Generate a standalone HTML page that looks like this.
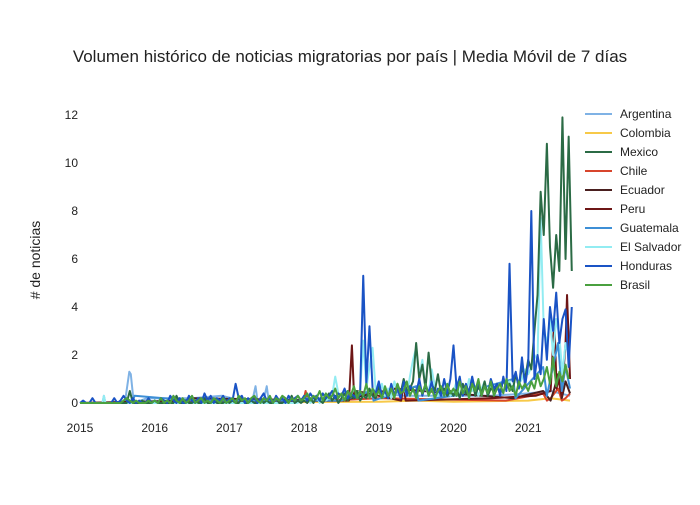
<!DOCTYPE html>
<html><head><meta charset="utf-8"><style>
body{margin:0;background:#fff;font-family:"Liberation Sans",sans-serif}
svg text{font-family:"Liberation Sans",sans-serif;fill:#222}
</style></head><body>
<svg id="c" width="700" height="500">
<text x="350" y="62" text-anchor="middle" font-size="17">Volumen histórico de noticias migratorias por país | Media Móvil de 7 días</text>
<text transform="translate(40,260) rotate(-90)" text-anchor="middle" font-size="14"># de noticias</text>
<g id="yt"></g><g id="xt"></g><g id="plot"></g><g id="leg"></g>
</svg>
<script>
const names=["Argentina","Colombia","Mexico","Chile","Ecuador","Peru","Guatemala","El Salvador","Honduras","Brasil"];
const colors=["#7fb2e5","#f7c948","#2b6b45","#d8452c","#4a1f1f","#6e1616","#3d8fd6","#92ecf2","#1a53c5","#4aa03f"];
const yTicks=[0,2,4,6,8,10,12];
const xTicks=[2015,2016,2017,2018,2019,2020,2021];
const STEP=1/24;
const tArgentina=[2015,2015.3,2015.32,2015.34,2015.6,2015.66,2015.68,2015.72,2015.9,2016.5,2016.9,2017.3,2017.35,2017.38,2017.45,2017.5,2017.53,2018.2,2018.9,2019.3,2020.5,2021.0,2021.3,2021.56];
const vArgentina=[0,0,0.3,0,0,1.3,1.2,0,0.2,0.2,0.3,0,0.7,0,0,0.7,0,0.2,0.5,0.3,0.3,0.4,0.5,0.3];
const tColombia=[2015,2019,2019.5,2020,2021,2021.3,2021.56];
const vColombia=[0,0.05,0.1,0.05,0.1,0.2,0.1];
const tChile=[2015,2017.8,2018.0,2018.02,2018.05,2018.3,2019,2020.7,2021.2,2021.25,2021.3,2021.4,2021.45,2021.5,2021.56];
const vChile=[0,0,0.2,0.5,0.1,0.1,0.2,0.1,0.4,0.1,0.2,0.6,0.1,0.2,0.4];
const tEcuador=[2015,2016.4,2016.5,2018.5,2019.2,2020.8,2021.2,2021.3,2021.35,2021.4,2021.45,2021.5,2021.56];
const vEcuador=[0,0.1,0.2,0.1,0.6,0.2,0.5,0.1,0.6,1.2,0.2,0.9,0.4];
const tPeru=[2015,2018.6,2018.64,2018.67,2018.7,2019.3,2019.33,2019.36,2020.5,2021.1,2021.3,2021.35,2021.38,2021.4,2021.45,2021.5,2021.52,2021.56];
const vPeru=[0,0.1,2.4,0.2,0.5,0.1,0.8,0.1,0.2,0.3,0.5,3.5,0.6,1.0,0.3,2.5,4.5,1.0];
const tGuatemala=[2015,2015.7,2015.73,2016.5,2017.5,2018.5,2018.9,2018.93,2019.5,2019.53,2020.0,2020.8,2020.83,2021.2,2021.25,2021.4,2021.45,2021.5,2021.56];
const vGuatemala=[0,0,0.3,0.1,0.1,0.1,0.5,0.1,0.7,0.1,0.3,1.0,0.2,1.5,0.3,2.5,0.5,1.5,0.6];
const startMexico=2015;
const vMexico=[0,0,0,0,0,0,0,0,0,0,0,0,0,0,0,0,0.5,0,0,0,0.1,0,0,0,
0.1,0,0,0,0,0,0,0.3,0,0,0.1,0,0,0.1,0,0,0.2,0,0,0.1,0,0,0,0.1,
0,0.1,0,0,0.2,0,0,0.1,0,0,0.2,0,0.1,0,0,0.2,0,0,0.1,0,0.3,0,0.1,0,
0.1,0,0.2,0,0.3,0.1,0,0.2,0.4,0.1,0.3,0,0.2,0.4,0.1,0.3,0.2,0.5,0.1,0.3,0.2,0.6,0.3,0.2,
0.7,0.3,0.5,0.2,0.6,0.3,0.8,0.4,1.0,0.5,0.6,0.9,2.5,1.0,1.6,0.6,2.1,0.8,0.5,1.2,0.4,0.6,0.3,0.5,
0.3,0.6,0.2,0.8,0.4,0.5,1.0,0.3,0.7,0.4,0.9,0.3,0.6,0.5,0.8,0.4,1.0,0.6,0.8,0.5,1.2,0.7,1.5,1.0,
1.8,1.4,3.0,4.5,8.8,7.0,10.8,6.5,4.8,7.0,5.5,11.9,6.0,11.1,5.5];
const startSalvador=2018;
const vSalvador=[0.1,0.2,0,0.1,0.3,0,0.2,0.1,0.2,0.3,1.1,0.4,0.3,0.2,0.5,0.3,0.6,0.4,0.5,2.6,0.6,1.5,2.3,0.5,
0.4,0.8,0.3,0.6,0.2,0.9,0.5,0.4,0.7,0.3,1.1,1.8,2.3,1.1,1.8,0.6,0.4,1.4,0.7,0.3,0.6,0.4,0.8,0.3,
0.5,0.9,0.3,0.6,0.4,1.0,0.5,0.7,0.3,0.6,0.9,0.4,0.8,0.5,0.7,0.4,1.0,0.6,0.9,0.5,1.2,0.8,1.0,1.4,
1.2,1.5,2.0,1.8,7.7,3.0,2.5,3.5,2.0,3.5,2.8,1.2,2.5,2.0];
const startHonduras=2015;
const vHonduras=[0,0.1,0,0,0.2,0,0,0,0,0,0,0.2,0,0.1,0.3,0.1,0,0.2,0,0.1,0,0,0.2,0,
0.1,0,0.2,0.1,0,0.3,0.1,0,0.2,0,0,0.3,0.1,0,0.2,0,0.4,0.1,0.3,0,0.2,0.1,0.3,0,
0.2,0.1,0.8,0.2,0.3,0,0.2,0.1,0.3,0,0.2,0.4,0.1,0.2,0,0.3,0.1,0.2,0,0.3,0.1,0.2,0.3,0.1,
0.3,0.1,0.4,0.2,0.3,0.1,0.4,0.2,0.3,0.5,0.2,0.4,0.3,0.6,0.2,0.4,0.3,0.2,0.4,5.3,0.8,3.2,0.6,0.4,
0.9,0.3,0.5,0.2,0.8,0.3,0.6,0.2,0.9,0.3,0.7,0.5,0.4,1.0,0.3,0.8,0.4,0.9,0.2,0.6,0.3,1.0,0.4,1.0,
2.4,0.6,1.1,0.3,0.8,0.4,1.1,0.5,0.9,0.3,0.7,0.4,1.0,0.6,0.8,0.3,1.1,0.5,5.8,0.9,1.3,0.6,1.9,0.7,
1.6,8.0,1.0,2.0,1.2,3.5,1.8,4.0,3.0,4.6,2.5,3.5,3.9,1.5,4.0];
const startBrasil=2015;
const vBrasil=[0,0,0,0,0,0,0,0,0,0,0,0,0,0,0.1,0.2,0.1,0,0.1,0,0,0,0.1,0,
0.1,0,0.2,0,0.1,0,0.3,0.1,0,0.2,0,0.1,0.3,0,0.1,0.2,0,0.1,0,0.2,0.1,0,0.2,0,
0.1,0.2,0,0.3,0.1,0.2,0,0.2,0.3,0.1,0,0.2,0.1,0.3,0,0.2,0.1,0.3,0.2,0,0.2,0.1,0.3,0.1,
0.2,0.4,0.1,0.3,0.2,0.5,0.1,0.4,0.2,0.3,0.6,0.2,0.4,0.1,0.5,0.3,0.7,0.2,0.5,0.3,0.8,0.2,0.6,0.3,
0.5,0.2,0.7,0.3,0.6,0.2,0.8,0.4,0.5,0.9,0.3,0.6,0.2,0.7,0.4,0.8,0.3,0.6,0.2,0.5,0.7,0.3,0.8,0.4,
0.6,0.3,0.9,0.4,0.7,0.2,0.8,0.5,1.0,0.3,0.7,0.4,0.9,0.3,0.6,0.8,0.4,1.0,0.5,0.7,0.3,0.9,0.6,0.8,
0.5,0.9,0.6,1.2,0.7,1.0,1.5,0.8,1.9,0.7,1.3,0.9,1.6,1.0];
const dates=(s,v)=>v.map((_,i)=>s+i*STEP);
const tMexico=dates(startMexico,vMexico);
const tSalvador=[2015,2015.3,2015.32,2015.34,2016,2017.9].concat(dates(startSalvador,vSalvador));
const vSalvadorAll=[0,0,0.3,0,0,0].concat(vSalvador);
const tHonduras=dates(startHonduras,vHonduras);
const tBrasil=dates(startBrasil,vBrasil);
const seriesT=[tArgentina,tColombia,tMexico,tChile,tEcuador,tPeru,tGuatemala,tSalvador,tHonduras,tBrasil];
const seriesV=[vArgentina,vColombia,vMexico,vChile,vEcuador,vPeru,vGuatemala,vSalvadorAll,vHonduras,vBrasil];
const NS="http://www.w3.org/2000/svg";
const X=t=>80+(t-2015)*74.7, Y=v=>403-v*24;
function mk(tag,at,parent){const e=document.createElementNS(NS,tag);for(const k in at)e.setAttribute(k,at[k]);parent.appendChild(e);return e;}
const yt=document.getElementById('yt'),xt=document.getElementById('xt'),plot=document.getElementById('plot'),leg=document.getElementById('leg');
yTicks.forEach(v=>{const t=mk('text',{x:78,y:Y(v)+4,'text-anchor':'end','font-size':12},yt);t.textContent=v;

});
xTicks.forEach(v=>{const t=mk('text',{x:X(v),y:432,'text-anchor':'middle','font-size':12},xt);t.textContent=v;

});
const order=[0,1,3,4,5,6,7,2,8,9];
order.forEach(i=>{const ts=seriesT[i],vs=seriesV[i];
const p=mk('polyline',{points:ts.map((t,j)=>X(t)+','+Y(vs[j])).join(' '),fill:'none',stroke:colors[i],'stroke-width':2,'stroke-linejoin':'round'},plot);

});
names.forEach((n,i)=>{const y=114+i*19;
const l=mk('line',{x1:585,x2:612,y1:y,y2:y,stroke:colors[i],'stroke-width':2},leg);


const t=mk('text',{x:620,y:y+4,'font-size':12},leg);t.textContent=n;

});
</script>
</body></html>
